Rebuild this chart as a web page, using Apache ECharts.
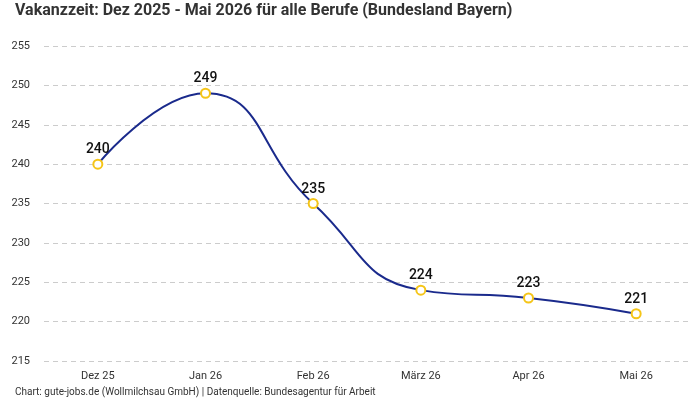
<!DOCTYPE html>
<html>
<head>
<meta charset="utf-8">
<script src="https://cdn.jsdelivr.net/npm/echarts@6/dist/echarts.min.js"></script>
<style>
  html, body { margin: 0; padding: 0; background: #fff; }
  #chart { width: 700px; height: 400px; }
</style>
</head>
<body>
<div id="chart"></div>
<script>
  const months = ['Dez 25', 'Jan 26', 'Feb 26', 'März 26', 'Apr 26', 'Mai 26']
  const vakanzzeit = [240, 249, 235, 224, 223, 221]

  let myChart = echarts.init(document.getElementById('chart'))
  let fontName = 'Roboto, "Noto Sans", sans-serif'

  let option = {
    backgroundColor: '#ffffff',
    title: [
      {
        text: 'Vakanzzeit: Dez 2025 - Mai 2026 für alle Berufe (Bundesland Bayern)',
        left: 10,
        top: -2,
        textStyle: { fontSize: 16, fontWeight: 'bold', color: '#333', fontFamily: fontName }
      },
      {
        text: 'Chart: gute-jobs.de (Wollmilchsau GmbH) | Datenquelle: Bundesagentur für Arbeit',
        left: 10,
        top: 382,
        textStyle: { fontSize: 10, fontWeight: 'normal', color: '#333', fontFamily: fontName }
      }
    ],
    grid: { left: 44, right: 10, top: 46, bottom: 39 },
    xAxis: {
      type: 'category',
      data: months,
      axisLine: { show: false },
      axisTick: { show: false },
      axisLabel: { color: '#333', fontSize: 11, margin: 10, fontFamily: fontName }
    },
    yAxis: {
      type: 'value',
      min: 215,
      max: 255,
      interval: 5,
      axisLabel: { color: '#333', fontSize: 11, margin: 14, fontFamily: fontName },
      splitLine: { lineStyle: { color: '#cccccc', type: [5, 4] } }
    },
    series: [
      {
        type: 'line',
        data: vakanzzeit,
        smooth: true,
        symbol: 'circle',
        symbolSize: 9,
        lineStyle: { color: '#1a2a8c', width: 2 },
        itemStyle: { color: '#ffffff', borderColor: '#f5c518', borderWidth: 2 },
        label: {
          show: true,
          position: 'top',
          distance: 2,
          fontSize: 14,
          fontWeight: 500,
          color: '#111',
          fontFamily: fontName
        }
      }
    ]
  }

  myChart.setOption(option)
</script>
</body>
</html>
